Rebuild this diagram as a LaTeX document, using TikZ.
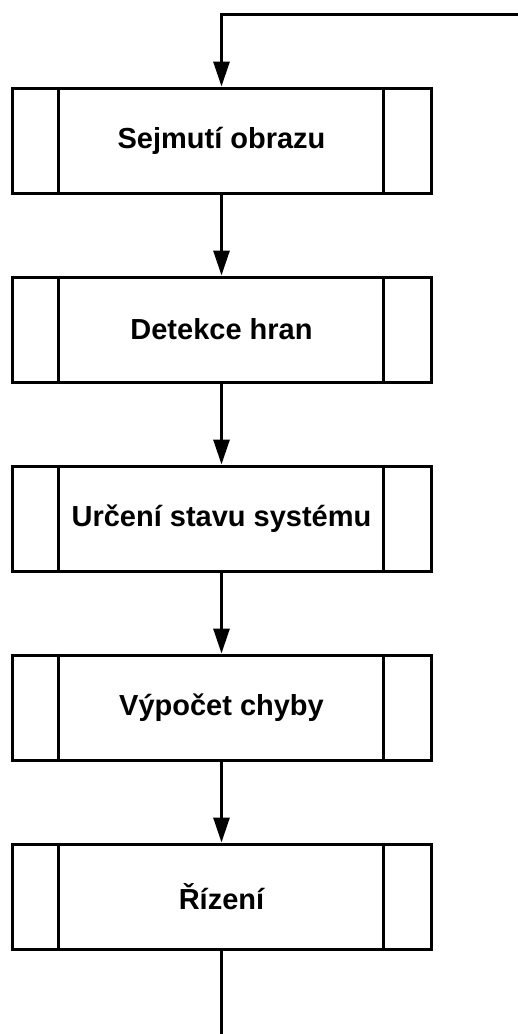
\documentclass[tikz,border=0pt]{standalone}
\usepackage{fontspec}
\setmainfont{Liberation Sans}
\usetikzlibrary{arrows.meta,calc}
\begin{document}
\begin{tikzpicture}[x=1pt,y=-1pt,
  proc/.style={draw, line width=3pt, minimum width=419pt, minimum height=105pt, inner sep=0pt,
    font=\fontsize{29}{34}\selectfont\bfseries},
  conn/.style={line width=3pt},
  arr/.style={conn, -{Triangle[length=25pt,width=16pt]}}]
\useasboundingbox (0,0) rectangle (518,1034);
\node[proc] (b1) at (221.5,140.5) {Sejmutí obrazu};
\node[proc] (b2) at (221.5,329.5) {Detekce hran};
\node[proc] (b3) at (221.5,518.5) {Určení stavu systému};
\node[proc] (b4) at (221.5,707.5) {Výpočet chyby};
\node[proc] (b5) at (221.5,896.5) {Řízení};
\foreach \b in {b1,b2,b3,b4,b5}{
  \draw[conn] ($(\b.north west)+(48,0)$) -- ($(\b.south west)+(48,0)$);
  \draw[conn] ($(\b.north east)+(-49,0)$) -- ($(\b.south east)+(-49,0)$);
}
\coordinate (top) at (519,14);
\coordinate (end) at (221.5,1036);
\draw[arr] (top) -| (b1.north);
\draw[arr] (b1.south) -- (b2.north);
\draw[arr] (b2.south) -- (b3.north);
\draw[arr] (b3.south) -- (b4.north);
\draw[arr] (b4.south) -- (b5.north);
\draw[conn] (b5.south) -- (end);
\end{tikzpicture}
\end{document}
